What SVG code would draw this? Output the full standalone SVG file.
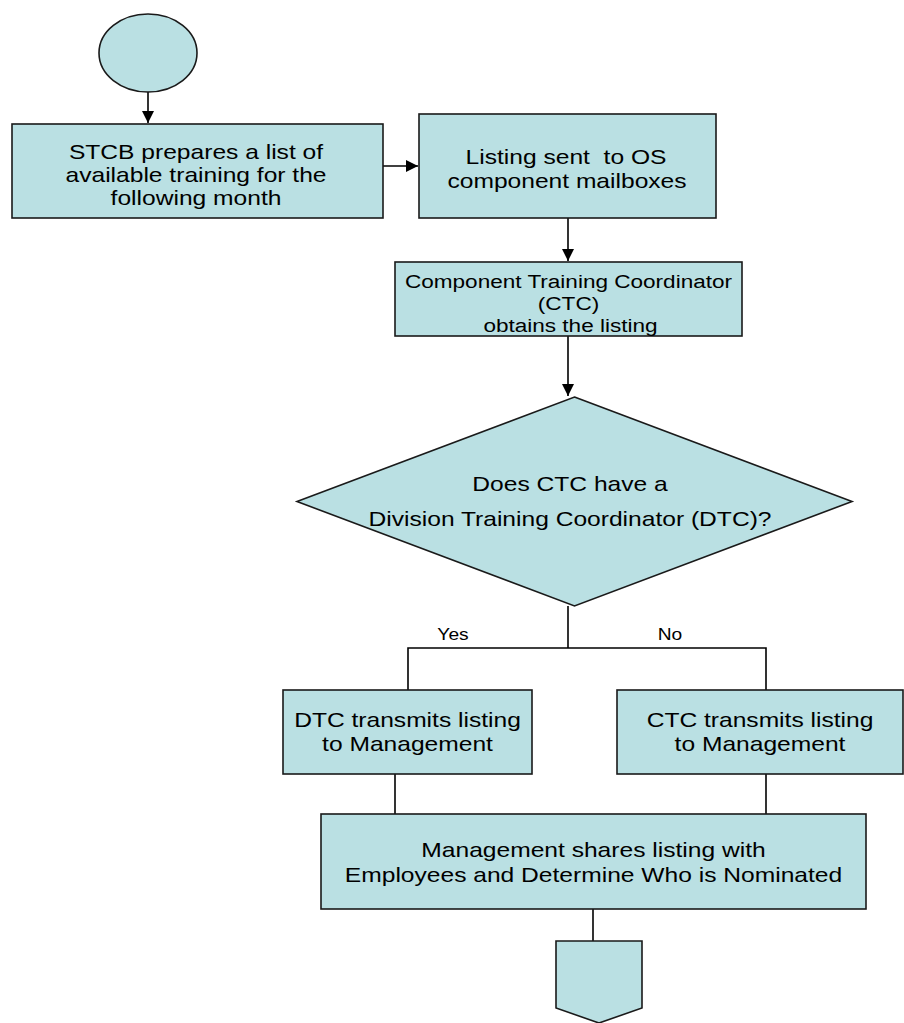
<svg xmlns="http://www.w3.org/2000/svg" width="904" height="1023" viewBox="0 0 904 1023">
<style>
.n{fill:#BAE0E3;stroke:#1a1a1a;stroke-width:1.6}
.c{fill:none;stroke:#000;stroke-width:1.6}
.t{font-family:"Liberation Sans",Arial,sans-serif;font-size:20.5px;fill:#000;text-anchor:middle}
.m{font-size:18.8px}
.s{font-family:"Liberation Sans",Arial,sans-serif;font-size:16px;fill:#000;text-anchor:middle}
</style>
<defs>
<marker id="ah" markerUnits="userSpaceOnUse" markerWidth="12" markerHeight="12" viewBox="0 0 12 12" refX="12" refY="6" orient="auto">
<path d="M0,0 L12,6 L0,12 Z" fill="#000"/>
</marker>
</defs>
<rect width="904" height="1023" fill="#fff"/>
<g id="connectors">
<line class="c" x1="148" y1="92" x2="148" y2="123" marker-end="url(#ah)"/>
<line class="c" x1="383" y1="166" x2="418" y2="166" marker-end="url(#ah)"/>
<line class="c" x1="568" y1="218" x2="568" y2="261" marker-end="url(#ah)"/>
<line class="c" x1="568" y1="336" x2="568" y2="396" marker-end="url(#ah)"/>
<polyline class="c" points="568,606 568,648"/>
<polyline class="c" points="408,690 408,648 766,648 766,690"/>
<line class="c" x1="395" y1="774" x2="395" y2="814"/>
<line class="c" x1="766" y1="774" x2="766" y2="814"/>
<line class="c" x1="593" y1="909" x2="593" y2="941"/>
<text class="s" transform="translate(453 640) scale(1.2 1)">Yes</text>
<text class="s" transform="translate(670 640) scale(1.2 1)">No</text>
</g>
<g id="start">
<ellipse class="n" cx="148" cy="53" rx="49" ry="39"/>
</g>
<g id="stcb">
<rect class="n" x="12" y="124" width="371" height="94"/>
<text class="t" transform="translate(196 159) scale(1.2 1)">STCB prepares a list of</text>
<text class="t" transform="translate(196 182) scale(1.2 1)">available training for the</text>
<text class="t" transform="translate(196 205) scale(1.2 1)">following month</text>
</g>
<g id="listing">
<rect class="n" x="419" y="114" width="297" height="104"/>
<text class="t" transform="translate(566 164) scale(1.2 1)" xml:space="preserve">Listing sent  to OS</text>
<text class="t" transform="translate(567 188) scale(1.2 1)">component mailboxes</text>
</g>
<g id="ctc">
<rect class="n" x="395" y="262" width="347" height="74"/>
<text class="t m" transform="translate(568.5 288) scale(1.2 1)">Component Training Coordinator</text>
<text class="t m" transform="translate(568.5 310) scale(1.2 1)">(CTC)</text>
<text class="t m" transform="translate(570.5 332) scale(1.2 1)">obtains the listing</text>
</g>
<g id="decision">
<polygon class="n" points="574.5,397 852,501.5 574.5,606 297,501.5"/>
<text class="t" transform="translate(570 491) scale(1.2 1)">Does CTC have a</text>
<text class="t" transform="translate(570 526) scale(1.2 1)">Division Training Coordinator (DTC)?</text>
</g>
<g id="dtc-transmit">
<rect class="n" x="283" y="690" width="249" height="84"/>
<text class="t" transform="translate(407.5 727) scale(1.2 1)">DTC transmits listing</text>
<text class="t" transform="translate(407.5 751) scale(1.2 1)">to Management</text>
</g>
<g id="ctc-transmit">
<rect class="n" x="617" y="690" width="286" height="84"/>
<text class="t" transform="translate(760 727) scale(1.2 1)">CTC transmits listing</text>
<text class="t" transform="translate(760 751) scale(1.2 1)">to Management</text>
</g>
<g id="management">
<rect class="n" x="321" y="814" width="545" height="95"/>
<text class="t" transform="translate(593.5 857) scale(1.2 1)">Management shares listing with</text>
<text class="t" transform="translate(593.5 882) scale(1.2 1)">Employees and Determine Who is Nominated</text>
</g>
<g id="offpage">
<polygon class="n" points="556,941 642,941 642,1008 599,1023 556,1008"/>
</g>
</svg>
